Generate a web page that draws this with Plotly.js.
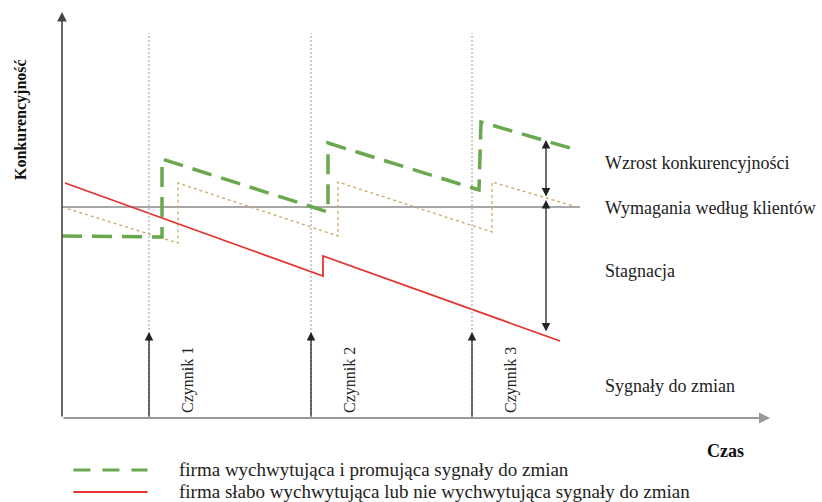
<!DOCTYPE html>
<html><head><meta charset="utf-8">
<script src="https://cdn.plot.ly/plotly-3.0.1.min.js"></script>
<style>html,body{margin:0;padding:0;background:#fff}#chart{width:822px;height:502px}</style>
</head><body><div id="chart"></div>
<script>
// Series (time units, competitiveness units; 0 = customer requirements level)
const greenTime = [0, 10, 10, 26.6, 26.6, 41.7, 41.9, 51.5];
const greenComp = [-2.9, -3.0, 4.8, -0.5, 6.4, 1.7, 8.5, 5.7];
const tanTime = [0, 11.6, 11.6, 27.6, 27.6, 43, 43, 51.5];
const tanComp = [0, -3.6, 2.4, -2.9, 2.5, -2.5, 2.5, 0];
const redTime = [0.3, 26.1, 26.1, 49.8];
const redComp = [2.4, -6.9, -4.9, -13.4];
const requirementTime = [-1.4, 51.8];
const requirementComp = [0, 0];
const factorTime = [8.7, 24.9, 41.0];
const factorLabels = ['Czynnik 1', 'Czynnik 2', 'Czynnik 3'];
const rightLabels = ['Wzrost konkurencyjności', 'Wymagania według klientów', 'Stagnacja', 'Sygnały do zmian'];
const rightLabelComp = [4.4, -0.1, -6.4, -17.9];
const legendLabels = ['firma wychwytująca i promująca sygnały do zmian', 'firma słabo wychwytująca lub nie wychwytująca sygnały do zmian'];
const axisTitleY = 'Konkurencyjność';
const axisTitleX = 'Czas';

const X0 = 0, X1 = 71.3, Y0 = -21.1, Y1 = 19.5;
const FONT = 'Liberation Serif';
const GREEN = '#6aa84f', RED = '#e3342f', TAN = '#c9a96a';

const traces = [
  {x: requirementTime, y: requirementComp, mode: 'lines', line: {color: '#8a8a8a', width: 1.6}, hoverinfo: 'skip', showlegend: false},
  {x: tanTime, y: tanComp, mode: 'lines', line: {color: TAN, width: 1.3, dash: '3px,3px'}, showlegend: false},
  {x: redTime, y: redComp, mode: 'lines', line: {color: RED, width: 1.8}, name: legendLabels[1], showlegend: false},
  {x: greenTime, y: greenComp, mode: 'lines', line: {color: GREEN, width: 3.5, dash: '20px,10px'}, name: legendLabels[0], showlegend: false}
];

const shapes = [];
const annotations = [];
factorTime.forEach((t, i) => {
  shapes.push({type: 'line', xref: 'x', yref: 'y', x0: t, x1: t, y0: Y0, y1: 17.4, line: {color: '#9a9a9a', width: 1, dash: '2px,2px'}});
  annotations.push({xref: 'x', yref: 'y', axref: 'x', ayref: 'y', x: t, y: -12.5, ax: t, ay: Y0, text: '', showarrow: true, arrowhead: 2, arrowsize: 1.3, arrowwidth: 1.3, arrowcolor: '#222', standoff: 0});
  annotations.push({xref: 'x', yref: 'y', x: t + 3.9, y: -17.3, xanchor: 'center', yanchor: 'middle', text: factorLabels[i], showarrow: false, textangle: -90, font: {family: FONT, size: 16, color: '#222'}});
});
annotations.push({xref: 'x', yref: 'y', axref: 'x', ayref: 'y', x: 0, y: Y1, ax: 0, ay: Y0, text: '', showarrow: true, arrowhead: 2, arrowsize: 1.2, arrowwidth: 1.6, arrowcolor: '#444', standoff: 0});
annotations.push({xref: 'x', yref: 'y', axref: 'x', ayref: 'y', x: 70.8, y: Y0, ax: 0, ay: Y0, text: '', showarrow: true, arrowhead: 2, arrowsize: 1.0, arrowwidth: 2.2, arrowcolor: '#999', standoff: 0});
annotations.push({xref: 'x', yref: 'y', axref: 'x', ayref: 'y', x: 48.4, y: 6.7, ax: 48.4, ay: 0.9, text: '', showarrow: true, arrowhead: 2, startarrowhead: 2, arrowside: 'end+start', arrowsize: 1.3, startarrowsize: 1.3, arrowwidth: 1.3, arrowcolor: '#222', standoff: 0, startstandoff: 0});
annotations.push({xref: 'x', yref: 'y', axref: 'x', ayref: 'y', x: 48.4, y: 0.7, ax: 48.4, ay: -12.6, text: '', showarrow: true, arrowhead: 2, startarrowhead: 2, arrowside: 'end+start', arrowsize: 1.3, startarrowsize: 1.3, arrowwidth: 1.3, arrowcolor: '#222', standoff: 0, startstandoff: 0});
rightLabels.forEach((s, i) => {
  annotations.push({xref: 'x', yref: 'y', x: 54.1, y: rightLabelComp[i], xanchor: 'left', yanchor: 'middle', text: s, showarrow: false, font: {family: FONT, size: 18, color: '#222'}});
});
annotations.push({xref: 'paper', yref: 'paper', x: -0.0575, y: 0.734, xanchor: 'center', yanchor: 'middle', text: '<b>' + axisTitleY + '</b>', textangle: -90, showarrow: false, font: {family: FONT, size: 16, color: '#111'}});
annotations.push({xref: 'paper', yref: 'paper', x: 0.930, y: -0.081, xanchor: 'center', yanchor: 'middle', text: '<b>' + axisTitleX + '</b>', showarrow: false, font: {family: FONT, size: 18, color: '#111'}});
const legendY = [-0.128, -0.182];
const legendStyle = [{color: GREEN, width: 3, dash: '17px,12px'}, {color: RED, width: 2}];
legendLabels.forEach((s, i) => {
  shapes.push({type: 'line', xref: 'paper', yref: 'paper', x0: 0.016, x1: 0.120, y0: legendY[i], y1: legendY[i], line: legendStyle[i]});
  annotations.push({xref: 'paper', yref: 'paper', x: 0.161, y: legendY[i], xanchor: 'left', yanchor: 'middle', text: s, showarrow: false, font: {family: FONT, size: 19, color: '#222'}});
});

const ax = {showgrid: false, zeroline: false, showticklabels: false, showline: false, ticks: '', fixedrange: true};
Plotly.newPlot('chart', traces, {
  width: 822, height: 502,
  font: {family: FONT, color: '#222'},
  margin: {l: 62, r: 47, t: 12, b: 84},
  paper_bgcolor: '#fff', plot_bgcolor: '#fff',
  xaxis: Object.assign({range: [X0, X1]}, ax),
  yaxis: Object.assign({range: [Y0, Y1]}, ax),
  showlegend: false,
  shapes: shapes, annotations: annotations
}, {displayModeBar: false});
</script></body></html>
